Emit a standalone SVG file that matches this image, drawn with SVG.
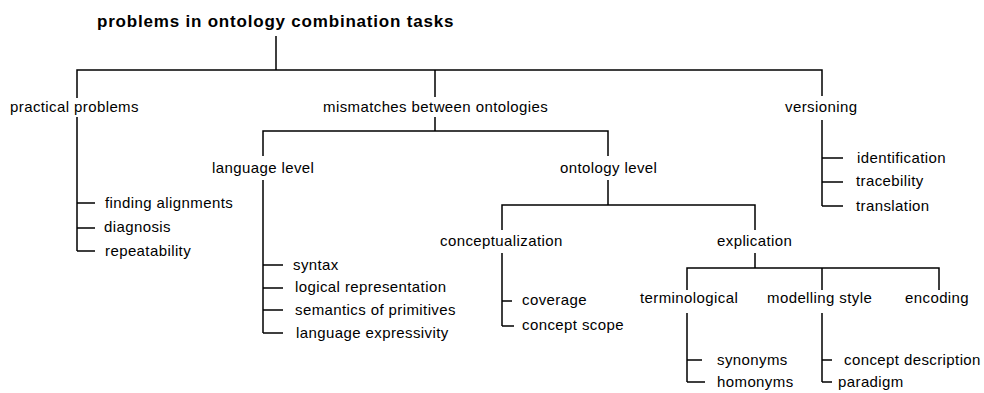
<svg xmlns="http://www.w3.org/2000/svg" width="984" height="393" viewBox="0 0 984 393">
<style>
text{font-family:"Liberation Sans",Arial,sans-serif;font-size:15px;letter-spacing:0.4px;fill:#000}
.title{font-weight:bold;font-size:17px;letter-spacing:0.8px}
#connectors path{fill:none;stroke:#000;stroke-width:1.5}
</style>
<rect width="984" height="393" fill="#fff"/>
<g id="connectors">
<path d="M276 36V70M77 98V70H822V96M435 70V97"/>
<path d="M77 117V251M77 203H95M77 228H95M77 251H95"/>
<path d="M822 120V206M822 158H843M822 182H843M822 206H843"/>
<path d="M435 117V131M263 156V131H608V156"/>
<path d="M263 180V333M263 265H283M263 288H283M263 310H283M263 333H283"/>
<path d="M608 180V205M502 230V205H755V230"/>
<path d="M502 253V326M502 301H512M502 326H514"/>
<path d="M755 253V268M687 290V268H939V290M822 268V290"/>
<path d="M687 313V382M687 360H702M687 382H705"/>
<path d="M822 313V382M822 360H832M822 382H832"/>
</g>
<g id="root"><text class="title" x="97" y="27">problems in ontology combination tasks</text></g>
<g id="practical"><text x="10" y="112">practical problems</text></g>
<g id="finding"><text x="105" y="208">finding alignments</text></g>
<g id="diagnosis"><text x="104" y="232">diagnosis</text></g>
<g id="repeatability"><text x="105" y="256">repeatability</text></g>
<g id="mismatches"><text x="323" y="112">mismatches between ontologies</text></g>
<g id="versioning"><text x="785" y="112">versioning</text></g>
<g id="identification"><text x="857" y="163">identification</text></g>
<g id="tracebility"><text x="856" y="186">tracebility</text></g>
<g id="translation"><text x="856" y="211">translation</text></g>
<g id="language"><text x="212" y="173">language level</text></g>
<g id="syntax"><text x="293" y="270">syntax</text></g>
<g id="logical"><text x="295" y="292">logical representation</text></g>
<g id="semantics"><text x="295" y="315">semantics of primitives</text></g>
<g id="expressivity"><text x="296" y="338">language expressivity</text></g>
<g id="ontology"><text x="560" y="173">ontology level</text></g>
<g id="conceptualization"><text x="440" y="246">conceptualization</text></g>
<g id="coverage"><text x="522" y="305">coverage</text></g>
<g id="scope"><text x="522" y="330">concept scope</text></g>
<g id="explication"><text x="717" y="246">explication</text></g>
<g id="terminological"><text x="640" y="303">terminological</text></g>
<g id="modelling"><text x="767" y="303">modelling style</text></g>
<g id="encoding"><text x="905" y="303">encoding</text></g>
<g id="synonyms"><text x="717" y="365">synonyms</text></g>
<g id="homonyms"><text x="717" y="387">homonyms</text></g>
<g id="description"><text x="844" y="365">concept description</text></g>
<g id="paradigm"><text x="838" y="387">paradigm</text></g>
</svg>
